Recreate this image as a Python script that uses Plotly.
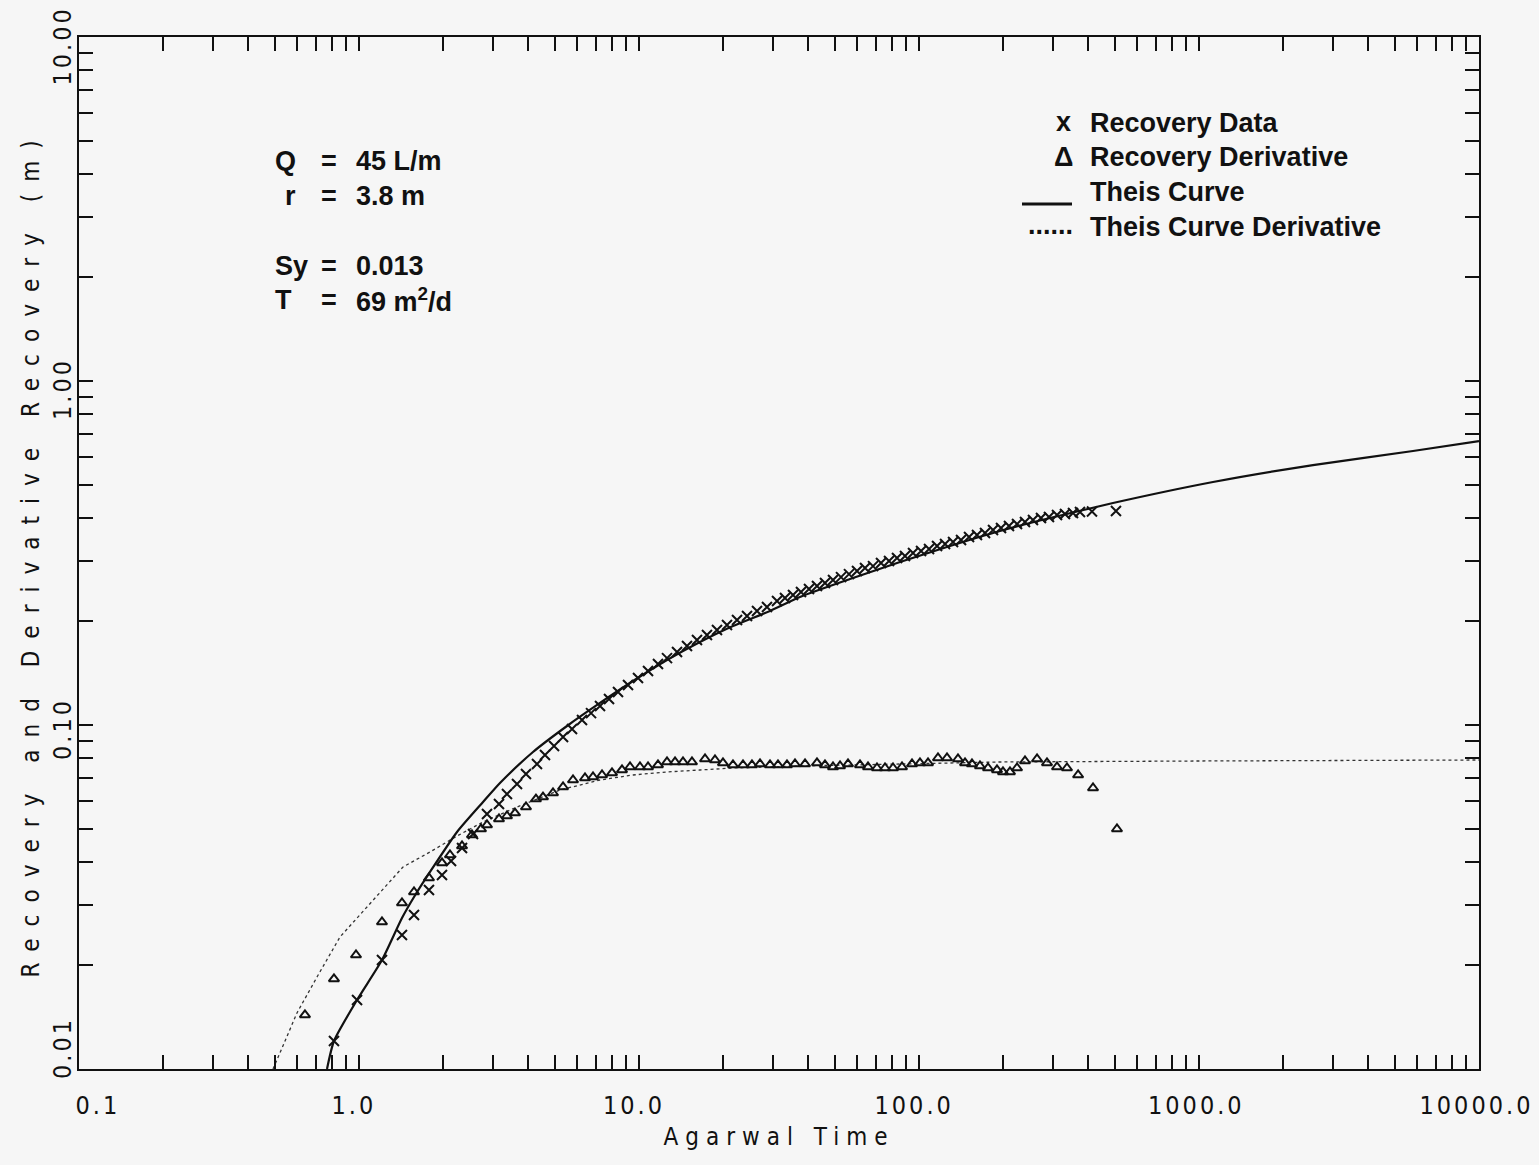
import plotly.graph_objects as go

# ---------------- data ----------------
rec_t = [0.814, 0.984, 1.208, 1.424, 1.572, 1.778, 1.979, 2.132, 2.333, 2.554, 2.865, 3.162,
         3.377, 3.667, 3.948, 4.322, 4.616, 4.972, 5.355, 5.765, 6.258, 6.741, 7.257, 7.815,
         8.414, 9.136, 9.918, 10.77, 11.69, 12.59, 13.67, 14.84, 16.11, 17.49, 18.99, 20.62,
         22.39, 24.31, 26.39, 28.65, 31.11, 33.22, 35.48, 37.89, 40.47, 43.22, 46.16, 49.30,
         52.66, 56.23, 60.06, 64.15, 68.51, 73.17, 78.15, 83.46, 89.13, 95.19, 101.7, 108.6,
         116.0, 123.9, 132.3, 141.3, 150.9, 161.1, 172.1, 183.8, 196.3, 209.6, 223.9, 239.1,
         255.3, 272.7, 291.2, 311.1, 332.2, 354.8, 375.8, 414.8, 505.2]
rec_s = [0.01206, 0.01587, 0.02074, 0.02452, 0.02803, 0.03314, 0.03664, 0.04024, 0.04391,
         0.04823, 0.05511, 0.05893, 0.06300, 0.06737, 0.07203, 0.07702, 0.08179, 0.08685,
         0.09229, 0.09736, 0.1034, 0.1083, 0.1136, 0.1190, 0.1247, 0.1307, 0.1369, 0.1435,
         0.1504, 0.1565, 0.1630, 0.1697, 0.1767, 0.1827, 0.1889, 0.1953, 0.2019, 0.2074,
         0.2145, 0.2203, 0.2293, 0.2340, 0.2387, 0.2435, 0.2484, 0.2535, 0.2586, 0.2638,
         0.2691, 0.2746, 0.2802, 0.2859, 0.2897, 0.2956, 0.2996, 0.3057, 0.3098, 0.3162,
         0.3205, 0.3248, 0.3314, 0.3358, 0.3404, 0.3449, 0.3519, 0.3567, 0.3615, 0.3688,
         0.3738, 0.3788, 0.3839, 0.3891, 0.3943, 0.3996, 0.4023, 0.4077, 0.4105, 0.4132,
         0.4160, 0.4174, 0.4188]

der_t = [0.6412, 0.814, 0.9756, 1.208, 1.424, 1.572, 1.778, 1.979, 2.113, 2.333, 2.532, 2.727,
         2.865, 3.162, 3.377, 3.607, 3.948, 4.286, 4.541, 4.930, 5.355, 5.812, 6.414, 6.851,
         7.378, 8.009, 8.696, 9.288, 10.08, 10.77, 11.69, 12.59, 13.45, 14.36, 15.46, 17.21,
         18.68, 19.95, 21.66, 23.52, 25.32, 27.05, 29.37, 31.36, 33.77, 36.07, 39.17, 43.22,
         46.16, 49.30, 52.23, 55.78, 61.56, 65.75, 70.79, 75.61, 80.75, 86.96, 94.41, 100.8,
         107.7, 116.9, 125.9, 137.8, 146.0, 154.6, 165.1, 176.4, 189.9, 199.5, 211.3, 223.9,
         239.1, 264.0, 286.5, 311.1, 337.7, 370.0, 418.3, 509.4]
der_s = [0.01436, 0.01827, 0.02145, 0.02675, 0.03038, 0.03270, 0.03591, 0.03971, 0.04189,
         0.04449, 0.04789, 0.04985, 0.05120, 0.05330, 0.05438, 0.05548, 0.05776, 0.06093,
         0.06175, 0.06344, 0.06604, 0.06920, 0.07013, 0.07061, 0.07156, 0.07253, 0.07400,
         0.07550, 0.07550, 0.07550, 0.07652, 0.07807, 0.07807, 0.07807, 0.07807, 0.07965,
         0.07912, 0.07755, 0.07652, 0.07652, 0.07652, 0.07702, 0.07652, 0.07652, 0.07652,
         0.07702, 0.07702, 0.07755, 0.07652, 0.07550, 0.07600, 0.07702, 0.07652, 0.07550,
         0.07499, 0.07499, 0.07499, 0.07550, 0.07702, 0.07755, 0.07755, 0.08018, 0.08018,
         0.07965, 0.07755, 0.07702, 0.07600, 0.07499, 0.07400, 0.07302, 0.07302, 0.07499,
         0.07859, 0.07965, 0.07755, 0.07550, 0.07499, 0.07156, 0.06560, 0.04985]

theis_t = [0.7686, 0.814, 0.9837, 1.208, 1.424, 1.572, 1.793, 2.239, 2.773, 3.188, 4.182,
           5.532, 7.257, 9.519, 12.59, 16.51, 21.66, 29.37, 37.58, 56.70, 85.54, 129.1,
           194.7, 293.6, 493.1, 1122, 2553, 5812, 10000]
theis_s = [0.0100, 0.01206, 0.01587, 0.02074, 0.02747, 0.03162, 0.03739, 0.04886, 0.05972,
           0.06783, 0.08346, 0.09933, 0.1159, 0.1342, 0.1545, 0.1743, 0.1940, 0.2145,
           0.2356, 0.2656, 0.2976, 0.3314, 0.3664, 0.3996, 0.4418, 0.5085, 0.5697, 0.6259,
           0.6691]

theis_d_t = [0.4931, 0.6005, 0.7079, 0.8550, 1.068, 1.436, 1.793, 2.239, 2.773, 3.667, 5.224,
             7.257, 9.519, 12.59, 16.51, 21.66, 29.37, 37.58, 85.54, 194.7, 1008, 10000]
theis_d_s = [0.0100, 0.01455, 0.01851, 0.02419, 0.02958, 0.03866, 0.04274, 0.04757, 0.05224,
             0.05776, 0.06473, 0.06920, 0.07156, 0.07302, 0.07400, 0.07499, 0.07550, 0.07600,
             0.07702, 0.07807, 0.07859, 0.07912]

x_decades = [0.1, 1, 10, 100, 1000, 10000]
x_tick_labels = ["0.1", "1.0", "10.0", "100.0", "1000.0", "10000.0"]
y_decades = [0.01, 0.1, 1, 10]
y_tick_labels = ["0.01", "0.10", "1.00", "10.00"]

params_labels = ["Q", "r", "Sy", "T"]
params_values = ["45 L/m", "3.8 m", "0.013", "69 m<sup>2</sup>/d"]
legend_labels = ["Recovery Data", "Recovery Derivative", "Theis Curve", "Theis Curve Derivative"]

# ---------------- figure ----------------
W, H = 1539, 1165
L, R, T, B = 79, 60, 37, 96
PW, PH = W - L - R, H - T - B


def px(xp):
    return (xp - L) / PW


def py(yp):
    return (H - B - yp) / PH


BG = "#f6f6f6"
INK = "#111111"
TXT_FONT = "Liberation Sans, Arial, Helvetica, sans-serif"
AX_FONT = "Liberation Sans Narrow, DejaVu Sans Condensed, Liberation Sans, sans-serif"
TXT_SIZE = 27
TICK_SIZE = 25

fig = go.Figure()
fig.add_trace(go.Scatter(x=theis_d_t, y=theis_d_s, mode="lines", name=legend_labels[3],
                         line=dict(color="#333333", width=1.3, dash="dot")))
fig.add_trace(go.Scatter(x=theis_t, y=theis_s, mode="lines", name=legend_labels[2],
                         line=dict(color=INK, width=2.2, shape="spline", smoothing=0.6)))
fig.add_trace(go.Scatter(x=rec_t, y=rec_s, mode="markers", name=legend_labels[0],
                         marker=dict(symbol="x-thin-open", size=10, color=INK,
                                     line=dict(color=INK, width=2))))
fig.add_trace(go.Scatter(x=der_t, y=der_s, mode="markers", name=legend_labels[1],
                         marker=dict(symbol="triangle-up-open", size=9, color=INK,
                                     line=dict(color=INK, width=2))))

x_minor = []
for d in x_decades[:-1]:
    for k in range(1, 10):
        x_minor.append(d * k)
x_minor.append(x_decades[-1])

y_minor = []
for d in y_decades[:-1]:
    for k in range(1, 10):
        y_minor.append(d * k)
y_minor.append(y_decades[-1])

axis_common = dict(showgrid=False, zeroline=False, showline=True, linecolor=INK, linewidth=2,
                   mirror="allticks", ticks="inside", ticklen=14, tickwidth=2, tickcolor=INK,
                   automargin=False, showticklabels=False)

fig.update_xaxes(type="log", range=[-1, 4], tickmode="array", tickvals=x_minor,
                 title=dict(text="Agarwal Time", font=dict(family=AX_FONT, size=24, color=INK),
                            standoff=58),
                 **axis_common)
fig.update_yaxes(type="log", range=[-2, 1], tickmode="array", tickvals=y_minor,
                 title=dict(text="Recovery and Derivative Recovery (m)",
                            font=dict(family=AX_FONT, size=24, color=INK), standoff=31),
                 **axis_common)

ann = []
# tick labels (placed as in the reference, first/last shifted inward)
x_label_px = [98, 354, 634, 914, 1196, 1476]
for lab, xx in zip(x_tick_labels, x_label_px):
    ann.append(dict(x=px(xx), y=py(1105), xref="paper", yref="paper", text=lab,
                    showarrow=False, xanchor="center", yanchor="middle",
                    font=dict(family=AX_FONT, size=TICK_SIZE, color=INK)))
y_label_py = [1048, 729, 389, 46]
for lab, yy in zip(y_tick_labels, y_label_py):
    ann.append(dict(x=px(62), y=py(yy), xref="paper", yref="paper", text=lab, textangle=-90,
                    showarrow=False, xanchor="center", yanchor="middle",
                    font=dict(family=AX_FONT, size=TICK_SIZE, color=INK)))
n_tick_ann = len(ann)

rows_y = [161, 196, 266, 300]
for lab, val, yy in zip(params_labels, params_values, rows_y):
    lx = 283 if lab == "r" else 273
    for txt, xx in ((lab, lx), ("=", 319), (val, 354)):
        ann.append(dict(x=px(xx), y=py(yy), xref="paper", yref="paper", text=txt,
                        showarrow=False, xanchor="left", yanchor="middle",
                        font=dict(family=TXT_FONT, size=TXT_SIZE, color=INK, weight="bold")))

leg_y = [123, 157, 192, 227]
for lab, yy in zip(legend_labels, leg_y):
    ann.append(dict(x=px(1088), y=py(yy), xref="paper", yref="paper", text=lab,
                    showarrow=False, xanchor="left", yanchor="middle",
                    font=dict(family=TXT_FONT, size=TXT_SIZE, color=INK, weight="bold")))
ann.append(dict(x=px(1063), y=py(122), xref="paper", yref="paper", text="x", showarrow=False,
                xanchor="center", yanchor="middle",
                font=dict(family=TXT_FONT, size=TXT_SIZE, color=INK, weight="bold")))
ann.append(dict(x=px(1063), y=py(157), xref="paper", yref="paper", text="Δ", showarrow=False,
                xanchor="center", yanchor="middle",
                font=dict(family=TXT_FONT, size=TXT_SIZE, color=INK, weight="bold")))
ann.append(dict(x=px(1050), y=py(225), xref="paper", yref="paper", text="......", showarrow=False,
                xanchor="center", yanchor="middle",
                font=dict(family=TXT_FONT, size=TXT_SIZE, color=INK, weight="bold")))

shapes = [dict(type="line", xref="paper", yref="paper", x0=px(1022), x1=px(1072),
               y0=py(204), y1=py(204), line=dict(color=INK, width=3))]

fig.update_layout(width=W, height=H, margin=dict(l=L, r=R, t=T, b=B, pad=0, autoexpand=False),
                  paper_bgcolor=BG, plot_bgcolor=BG, showlegend=False,
                  annotations=ann, shapes=shapes)

post = """
var fixSpacing = function(){
  document.querySelectorAll('.xtitle').forEach(function(e){e.style.letterSpacing='7px';});
  document.querySelectorAll('.ytitle').forEach(function(e){e.style.letterSpacing='12px';});
  for (var i = 0; i < NTICK; i++) {
    document.querySelectorAll('.annotation[data-index="' + i + '"] .annotation-text')
      .forEach(function(e){e.style.letterSpacing='3px';});
  }
};
fixSpacing();
var gd = document.getElementById('{plot_id}');
if (gd && gd.on) { gd.on('plotly_afterplot', fixSpacing); }
""".replace("NTICK", str(n_tick_ann))

fig.write_html("out.html", post_script=post)
